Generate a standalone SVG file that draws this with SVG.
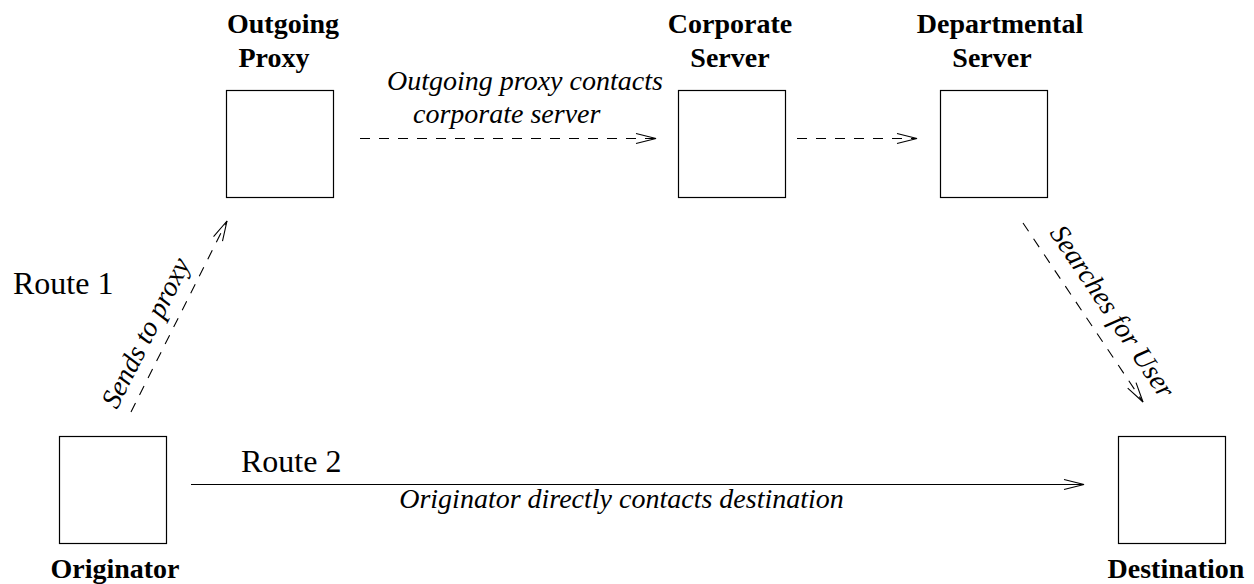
<svg xmlns="http://www.w3.org/2000/svg" width="1254" height="584" viewBox="0 0 1254 584">
<style>
text{font-family:'Liberation Serif','Times New Roman',Times,'DejaVu Serif',serif;fill:#000}
.box{fill:#fff;stroke:#000;stroke-width:1.2}
.bl{font-weight:bold;font-size:28px;text-anchor:middle}
.it{font-style:italic;font-size:28px}
.rg{font-size:32px}
.ln{fill:none;stroke:#000;stroke-width:1.1}
.dash{stroke-dasharray:10 9}
</style>
<defs>
<marker id="ah" markerUnits="userSpaceOnUse" markerWidth="24" markerHeight="14" viewBox="-22 -7 24 14" refX="0" refY="0" orient="auto" overflow="visible">
<path d="M-20,-5 L0,0 L-20,5" fill="none" stroke="#000" stroke-width="1.1"/>
</marker>
</defs>
<rect width="1254" height="584" fill="#fff"/>
<g id="originator">
<rect class="box" x="59.5" y="436.5" width="107" height="107"/>
<text class="bl" x="115" y="578" font-family="Liberation Serif, serif">Originator</text>
</g>
<g id="outgoing-proxy">
<rect class="box" x="226.5" y="90.5" width="107" height="107"/>
<text class="bl" x="283" y="33" font-family="Liberation Serif, serif">Outgoing</text>
<text class="bl" x="274" y="67" font-family="Liberation Serif, serif">Proxy</text>
</g>
<g id="corporate-server">
<rect class="box" x="678.5" y="90.5" width="107" height="107"/>
<text class="bl" x="730" y="33" font-family="Liberation Serif, serif">Corporate</text>
<text class="bl" x="730" y="67" font-family="Liberation Serif, serif">Server</text>
</g>
<g id="departmental-server">
<rect class="box" x="940.5" y="90.5" width="107" height="107"/>
<text class="bl" x="1000" y="33" font-family="Liberation Serif, serif">Departmental</text>
<text class="bl" x="992" y="67" font-family="Liberation Serif, serif">Server</text>
</g>
<g id="destination">
<rect class="box" x="1118.5" y="436.5" width="107" height="107"/>
<text class="bl" x="1176" y="578" font-family="Liberation Serif, serif">Destination</text>
</g>
<g id="connectors">
<line class="ln dash" x1="131" y1="412" x2="227" y2="221" marker-end="url(#ah)"/>
<line class="ln dash" x1="360" y1="138.5" x2="656" y2="138.5" marker-end="url(#ah)"/>
<line class="ln dash" x1="797" y1="138.5" x2="917" y2="138.5" marker-end="url(#ah)"/>
<line class="ln dash" x1="1023" y1="223" x2="1143" y2="402" marker-end="url(#ah)"/>
<line class="ln" x1="191" y1="484.5" x2="1084" y2="484.5" marker-end="url(#ah)"/>
</g>
<g id="labels">
<text class="rg" x="13" y="294">Route 1</text>
<text class="rg" x="241" y="472">Route 2</text>
<text class="it" x="387" y="90">Outgoing proxy contacts</text>
<text class="it" x="413" y="123">corporate server</text>
<text class="it" x="621.5" y="508" text-anchor="middle">Originator directly contacts destination</text>
<text class="it" transform="translate(117,410) rotate(-63.3)">Sends to proxy</text>
<text class="it" transform="translate(1049,233) rotate(56.2)">Searches for User</text>
</g>
</svg>
